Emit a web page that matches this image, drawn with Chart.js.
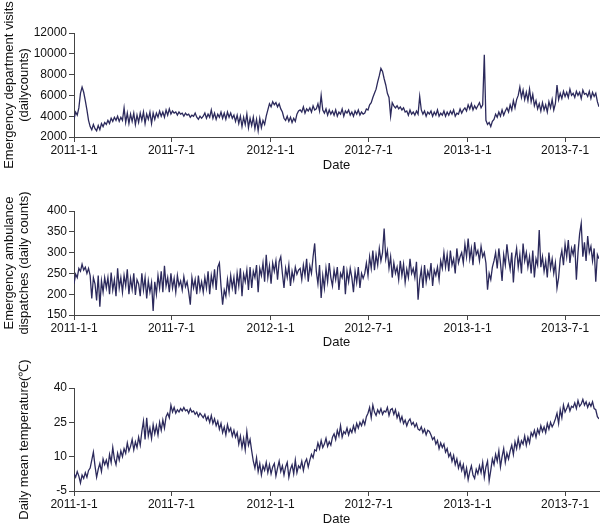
<!DOCTYPE html>
<html>
<head>
<meta charset="utf-8">
<script src="https://cdn.jsdelivr.net/npm/chart.js@4.4.0/dist/chart.umd.min.js"></script>
<style>
  body { margin: 0; background: #fff; width: 600px; height: 527px; overflow: hidden; position: relative; }
  .panel { position: absolute; left: 0; width: 600px; }
</style>
</head>
<body>
<div class="panel" style="top:0;height:175px"><canvas id="chartVisits"></canvas></div>
<div class="panel" style="top:178px;height:174px"><canvas id="chartAmbulance"></canvas></div>
<div class="panel" style="top:355px;height:172px"><canvas id="chartTemp"></canvas></div>
<script>
// one value every 3 days, starting 2011-1-1 (day 0)
const dayStep = 3;
const lastDay = 975;

const tickDays = [0, 181, 365, 547, 731, 912];
const tickLabels = ['2011-1-1', '2011-7-1', '2012-1-1', '2012-7-1', '2013-1-1', '2013-7-1'];

const visits = [
  3700, 4400, 4100, 4800, 6200, 6800, 6300, 5500, 4600, 3600,
  3000, 2700, 3200, 2800, 2600, 3100, 2700, 3300, 3000, 3400,
  3200, 3600, 3300, 3800, 3500, 3900, 3600, 4000, 3500, 3900,
  3600, 4800, 3400, 4300, 3300, 4200, 3500, 4300, 3200, 4100,
  3400, 4300, 3600, 4400, 3300, 4200, 3700, 4400, 3300, 4300,
  3700, 4300, 3900, 4500, 4000, 4400, 3900, 4600, 4100, 4700,
  4200, 4500, 4300, 4400, 4100, 4400, 4200, 4300, 4000, 4300,
  4100, 4200, 3900, 4100, 4000, 4300, 3900, 3700, 4000, 3800,
  4000, 4300, 3800, 4200, 3900, 4600, 3800, 4300, 3700, 4200,
  3900, 4400, 3800, 4300, 3700, 4400, 3900, 4300, 3800, 4100,
  3500, 4100, 3300, 4000, 3000, 3900, 3200, 4200, 2900, 3800,
  3100, 3900, 2800, 3700, 2600, 3800, 2900, 3600, 3200, 4000,
  4600, 5200, 4900, 5400, 5100, 5300, 4900, 5200, 4700, 4400,
  3800, 3600, 4000, 3500, 3900, 3400, 3800, 3500, 4200, 4500,
  4600, 4400, 4900, 4300, 4700, 4500, 4800, 4400, 5000, 4600,
  4700, 5200, 4500, 6000, 4600, 4300, 4700, 4100, 4600, 4200,
  4500, 4100, 4600, 4000, 4400, 4200, 4700, 4000, 4500, 4300,
  4600, 4100, 4400, 4000, 4500, 4200, 4600, 4100, 4400, 4200,
  4300, 4700, 4600, 5100, 5300, 5800, 6200, 6600, 7300, 7900,
  8600, 8300, 7600, 7000, 6200, 5800, 4000, 5300, 5000, 4800,
  5000, 4700, 4900, 4600, 4800, 4400, 4500, 4100, 4600, 4200,
  4400, 4100, 4500, 4200, 5900, 4600, 4200, 4500, 4000, 4400,
  4200, 4500, 4000, 4400, 4100, 4600, 4000, 4300, 4100, 4500,
  4000, 4400, 4100, 4500, 4200, 4600, 4000, 4300, 4200, 4700,
  4300, 4600, 4800, 4500, 5100, 4700, 5200, 4600, 5000, 4700,
  5000, 5300, 4800, 5100, 9900, 3600, 3200, 3400, 3000, 3500,
  3700, 4200, 3900, 4400, 4000, 4600, 4100, 4500, 4800, 4400,
  5100, 4600, 5500, 4800, 5600, 6000, 6800, 5800, 6500, 5600,
  6300, 5500, 6600, 5400, 6100, 5000, 5500, 4700, 5200, 4500,
  5300, 4600, 5100, 4400, 5400, 4800, 5600, 4600, 5200, 7000,
  5600, 6200, 5700, 6400, 5900, 6300, 5800, 6600, 6000, 6200,
  5800, 6400, 6000, 6300, 5700, 6500, 6100, 6200, 5900, 6400,
  5700, 6300, 5900, 6200, 5400, 4900
];

const ambulance = [
  225, 248, 240, 262, 255, 272, 258, 265, 250, 262,
  245, 190, 240, 225, 185, 245, 170, 232, 205, 240,
  215, 240, 200, 252, 210, 235, 195, 262, 215, 240,
  205, 245, 220, 260, 200, 238, 212, 250, 198, 235,
  225, 195, 250, 210, 240, 190, 232, 205, 228, 160,
  230, 200, 245, 215, 255, 205, 268, 220, 240, 205,
  250, 215, 238, 205, 245, 220, 232, 210, 242, 218,
  230, 205, 175, 240, 215, 235, 200, 245, 210, 230,
  205, 240, 215, 255, 200, 245, 222, 260, 210, 265,
  275, 220, 175, 210, 195, 235, 205, 245, 215, 240,
  200, 250, 220, 262, 195, 248, 230, 258, 210, 265,
  215, 255, 240, 270, 205, 262, 245, 275, 230, 295,
  240, 268, 225, 275, 255, 280, 235, 278, 290, 250,
  215, 262, 240, 270, 220, 255, 235, 265, 248, 258,
  262, 235, 270, 245, 285, 230, 268, 250, 290, 322,
  255, 225, 270, 191, 245, 215, 262, 230, 275, 240,
  220, 258, 235, 265, 210, 250, 240, 268, 200, 255,
  230, 262, 240, 205, 255, 228, 265, 215, 250, 238,
  250, 275, 245, 290, 262, 305, 258, 295, 270, 310,
  280, 300, 358, 285, 305, 262, 290, 240, 275, 250,
  265, 235, 280, 245, 272, 228, 260, 240, 285, 250,
  262, 240, 278, 187, 235, 260, 215, 270, 230, 255,
  240, 275, 220, 258, 245, 265, 235, 280, 262, 300,
  265, 295, 255, 305, 270, 285, 250, 310, 275, 290,
  300, 275, 320, 290, 334, 285, 310, 270, 325, 295,
  305, 280, 315, 290, 300, 275, 211, 250, 235, 265,
  280, 300, 262, 310, 275, 232, 295, 270, 320, 285,
  260, 300, 228, 285, 310, 265, 295, 250, 322, 280,
  300, 265, 290, 250, 305, 240, 285, 270, 354, 265,
  290, 255, 280, 240, 300, 262, 285, 250, 275, 215,
  240, 285, 305, 270, 320, 290, 330, 275, 310, 295,
  320, 235, 300, 345, 370, 290, 325, 280, 340, 300,
  315, 280, 310, 230, 295, 285
];

const temperature = [
  2.5, 1.0, 3.5, 1.5, -1.5, 2.0, 0.5, 3.0, 1.0, 4.0,
  5.0, 8.5, 12.0, 6.0, 1.0, 4.5, 7.0, 3.5, 9.0, 6.5,
  8.5, 5.5, 11.0, 7.5, 14.0, 9.0, 6.5, 11.5, 8.5, 12.5,
  10.0, 13.5, 11.5, 16.0, 12.5, 14.5, 17.5, 13.0, 16.5, 14.0,
  18.5, 15.0, 21.0, 25.5, 17.5, 27.0, 19.0, 22.5, 18.0, 24.0,
  20.0, 23.5, 19.5, 25.0, 21.5, 26.0, 22.5, 27.5, 29.0, 27.0,
  32.5, 29.5, 31.5, 29.0, 30.5, 29.5, 31.0, 30.0, 31.5, 30.0,
  30.5, 29.0, 31.0, 29.5, 30.0, 28.5, 29.5, 27.5, 29.0, 28.0,
  27.0, 28.5, 26.0, 27.5, 25.0, 28.0, 24.5, 26.5, 23.5, 25.5,
  22.0, 24.5, 20.5, 23.0, 19.5, 24.0, 21.0, 22.5, 19.0, 21.5,
  18.5, 20.5, 15.5, 19.0, 14.0, 18.0, 13.0, 21.0, 15.0, 17.5,
  12.5, 8.0, 5.0, 9.5, 3.5, 7.0, 2.0, 6.0, 4.0, 7.5,
  3.0, 6.5, 2.5, 5.5, 7.0, 1.5, 5.0, 8.0, 3.5, 6.0,
  2.0, 5.5, 7.5, 1.0, 4.5, 6.5, 2.5, 8.5, 3.0, 6.0,
  5.0, 8.0, 4.0, 7.5, 9.0, 5.5, 8.5, 11.0, 9.5, 13.0,
  12.5, 16.0, 13.5, 17.0, 14.0, 15.5, 18.0, 14.5, 16.5, 15.0,
  18.5, 20.0, 17.5, 21.5, 19.0, 23.5, 18.5, 21.0, 20.0, 22.5,
  19.5, 22.0, 20.5, 23.5, 21.0, 24.5, 22.5, 25.0, 23.5, 26.0,
  24.0, 27.5, 29.0, 31.5, 27.0, 32.5, 29.5, 28.0, 30.5, 29.0,
  31.0, 28.5, 30.0, 29.5, 31.5, 28.0, 30.5, 31.0, 28.5, 30.5,
  27.0, 29.0, 25.5, 27.5, 24.5, 26.0, 23.5, 25.5, 26.5, 24.0,
  25.0, 23.0, 24.5, 22.0, 21.5, 23.0, 20.5, 22.0, 19.5, 21.5,
  21.0, 19.5, 17.5, 18.5, 15.5, 17.0, 13.5, 16.0, 14.0, 15.5,
  12.0, 13.5, 10.0, 11.5, 8.0, 10.5, 6.5, 9.0, 5.0, 7.5,
  4.0, 6.5, 1.5, 5.0, 0.0, 3.5, 6.0, 2.0, 0.5, 4.5,
  2.5, 6.0, 3.0, 7.5, 1.0, 5.5, 8.0, -0.5, 4.0, 9.0,
  6.5, 11.0, 8.0, 12.5, 5.5, 10.0, 13.5, 7.5, 11.5, 9.0,
  12.5, 15.0, 11.0, 16.5, 13.5, 18.0, 14.0, 17.0, 15.5, 19.0,
  15.0, 18.5, 16.0, 20.5, 19.0, 21.5, 18.5, 22.0, 20.0, 23.5,
  21.0, 23.0, 20.5, 24.5, 22.0, 25.0, 23.0, 24.5, 26.5, 29.0,
  24.5, 30.5, 27.0, 32.5, 29.5, 31.0, 33.0, 30.0, 32.0, 31.5,
  33.5, 31.0, 34.5, 32.0, 33.0, 35.0, 32.5, 34.0, 31.5, 33.5,
  32.0, 34.0, 31.0, 30.5, 27.5, 26.5
];

const lineColor = 'rgb(44, 42, 92)';
const axisColor = '#444';
const fontFamily = "'Liberation Sans', Arial, sans-serif";

function makePanel(canvasId, values, yMin, yMax, yStep, yTitle, yTitlePad, xAxisHeight, pad) {
  const points = values.map((v, i) => ({ x: i * dayStep, y: v }));

  return new Chart(document.getElementById(canvasId), {
    type: 'line',
    data: {
      datasets: [{
        data: points,
        borderColor: lineColor,
        borderWidth: 1.3,
        pointRadius: 0,
        tension: 0,
        fill: false
      }]
    },
    options: {
      animation: false,
      responsive: true,
      maintainAspectRatio: false,
      layout: { padding: pad },
      plugins: { legend: { display: false }, tooltip: { enabled: false } },
      scales: {
        x: {
          type: 'linear',
          min: 0,
          max: lastDay,
          afterBuildTicks: axis => { axis.ticks = tickDays.map(d => ({ value: d })); },
          afterFit: scale => { scale.height = xAxisHeight; },
          ticks: {
            autoSkip: false,
            maxRotation: 0,
            padding: 1,
            color: '#111',
            font: { family: fontFamily, size: 12 },
            callback: value => tickLabels[tickDays.indexOf(value)]
          },
          grid: { display: true, drawOnChartArea: false, drawTicks: true, tickLength: 5, color: axisColor },
          border: { display: true, color: axisColor, width: 1 },
          title: {
            display: true,
            text: 'Date',
            color: '#111',
            font: { family: fontFamily, size: 13 },
            padding: { top: 0, bottom: 0 }
          }
        },
        y: {
          min: yMin,
          max: yMax,
          afterFit: scale => { scale.width = 74; },
          ticks: {
            stepSize: yStep,
            padding: 2,
            color: '#111',
            font: { family: fontFamily, size: 12 },
            callback: value => String(value)
          },
          grid: { display: true, drawOnChartArea: false, drawTicks: true, tickLength: 5, color: axisColor },
          border: { display: true, color: axisColor, width: 1 },
          title: {
            display: true,
            text: yTitle,
            color: '#111',
            font: { family: fontFamily, size: 13, lineHeight: 1.15 },
            padding: { top: yTitlePad, bottom: 0 }
          }
        }
      }
    }
  });
}

makePanel('chartVisits', visits, 2000, 12000, 2000,
  ['Emergency department visits', '(dailycounts)'], 2, 36,
  { top: 33, bottom: 2, left: 0, right: 1 });

makePanel('chartAmbulance', ambulance, 150, 400, 50,
  ['Emergency ambulance', 'dispatches (daily counts)'], 2, 35,
  { top: 33, bottom: 2, left: 0, right: 1 });

makePanel('chartTemp', temperature, -5, 40, 15,
  ['Daily mean temperature(℃)'], 17, 36,
  { top: 33, bottom: 0, left: 0, right: 1 });
</script>
</body>
</html>
